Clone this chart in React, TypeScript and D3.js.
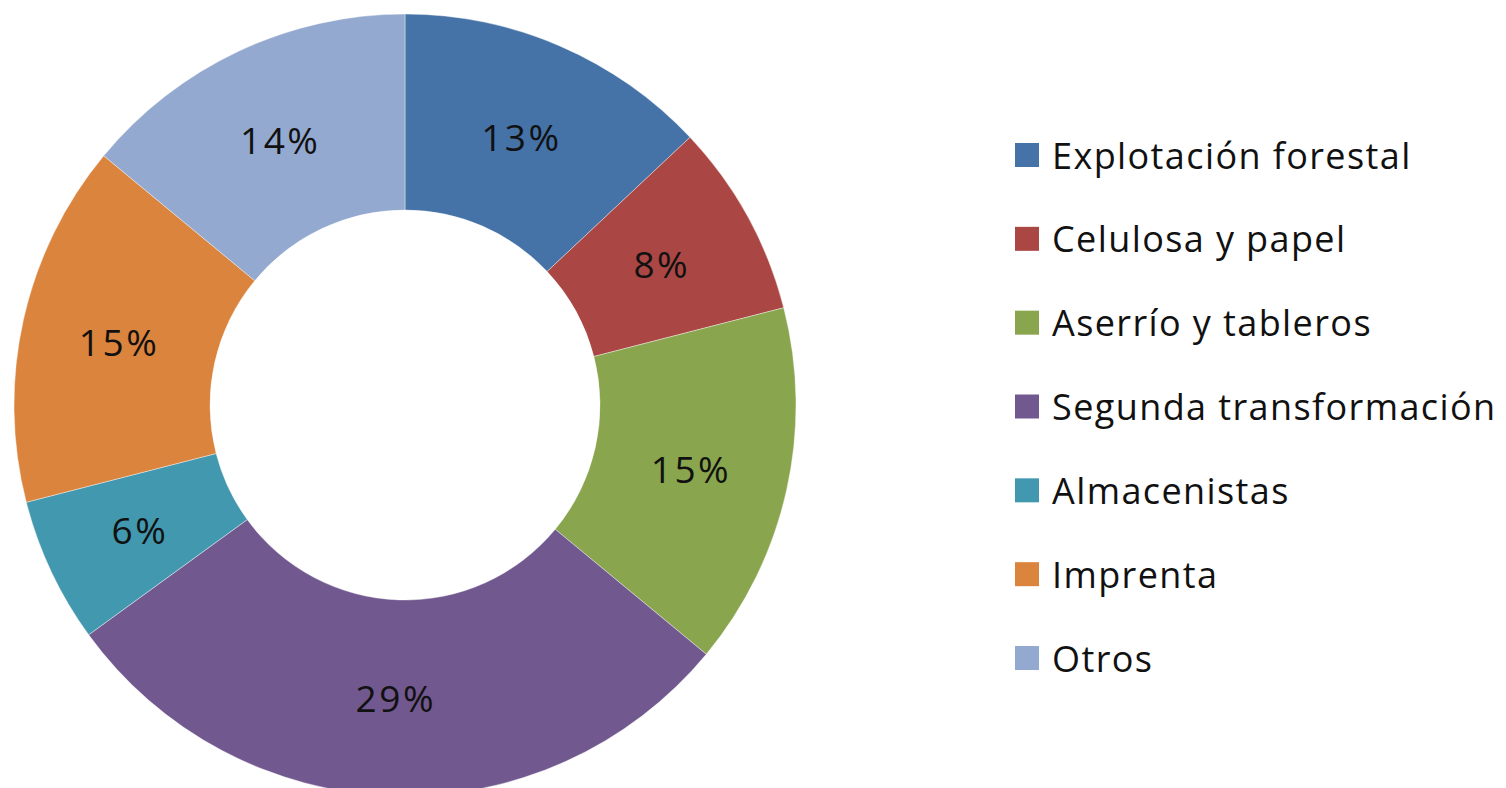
import React from "react";
import * as d3 from "d3";

const categories = [
  "Explotación forestal",
  "Celulosa y papel",
  "Aserrío y tableros",
  "Segunda transformación",
  "Almacenistas",
  "Imprenta",
  "Otros",
];
const values = [13, 8, 15, 29, 6, 15, 14];
const colors = ["#4572A7", "#AA4643", "#89A54E", "#71588F", "#4198AF", "#DB843D", "#93A9CF"];

const W = 1506;
const H = 788;
const cx = 405;
const cy = 405;
const R = 391;
const r = 195;

export default function App() {
  const pie = d3.pie<number>().sort(null).value((d) => d);
  const arcs = pie(values);
  const arc = d3.arc<d3.PieArcDatum<number>>().innerRadius(r).outerRadius(R);
  const labelArc = d3.arc<d3.PieArcDatum<number>>().innerRadius(293).outerRadius(293);
  const total = d3.sum(values);
  const legendY = d3.scalePoint<string>().domain(categories).range([155, 658]);

  return (
    <svg
      width={W}
      height={H}
      style={{ position: "absolute", left: 0, top: 0, background: "#fff" }}
      fontFamily="'Open Sans', sans-serif"
    >
      <g transform={`translate(${cx},${cy})`}>
        {arcs.map((a, i) => (
          <path key={i} d={arc(a) || ""} fill={colors[i]} stroke="#ffffff" strokeOpacity={0.4} strokeWidth={1} />
        ))}
        {arcs.map((a, i) => {
          const [x, y] = labelArc.centroid(a);
          return (
            <text
              key={i}
              x={x}
              y={y}
              textAnchor="middle"
              dominantBaseline="central"
              fontSize={37}
              letterSpacing={2.5}
              fill="#111"
            >
              {`${Math.round((values[i] / total) * 100)}%`}
            </text>
          );
        })}
      </g>
      <g>
        {categories.map((c, i) => (
          <g key={c} transform={`translate(0,${legendY(c)})`}>
            <rect x={1015} y={-12} width={24} height={24} fill={colors[i]} />
            <text x={1052} y={0} dominantBaseline="central" fontSize={36} letterSpacing={1.4} fill="#111">
              {c}
            </text>
          </g>
        ))}
      </g>
    </svg>
  );
}
